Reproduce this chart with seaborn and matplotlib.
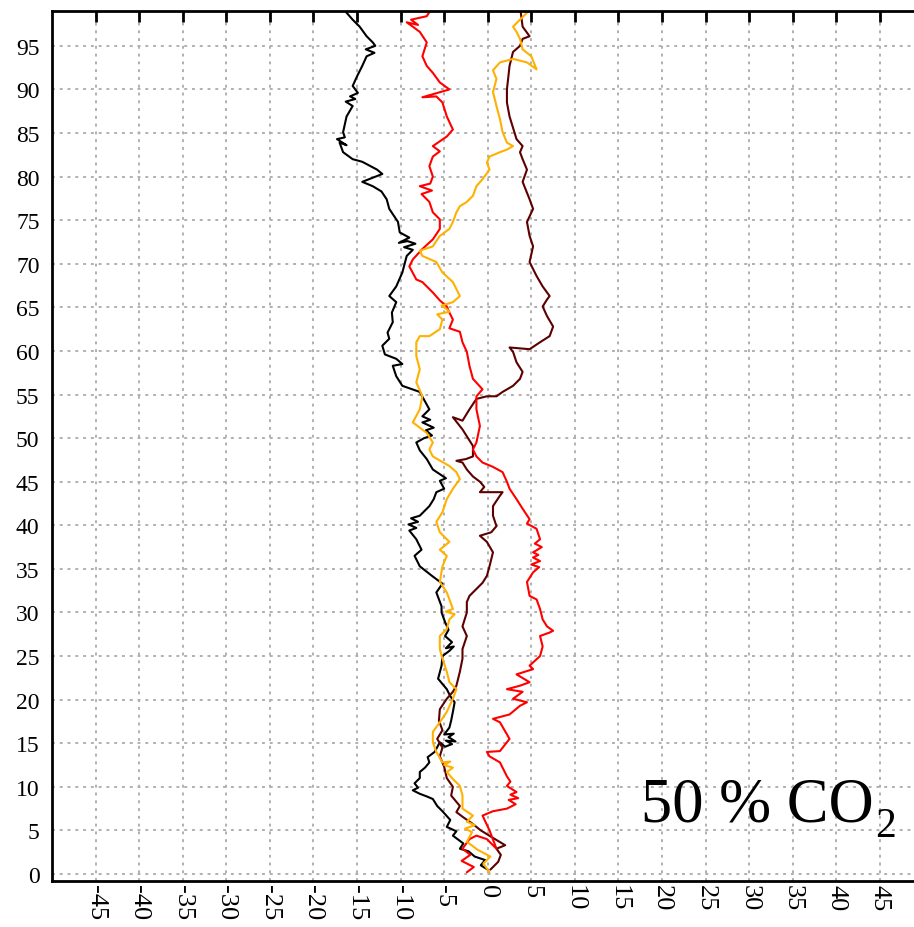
import numpy as np
import pandas as pd
import matplotlib
matplotlib.use("Agg")
import matplotlib.pyplot as plt
import seaborn as sns

# trajectories, (x, y) pairs
black_xy = [(0.0, 0.5), (-0.8, 1.0), (-0.3, 1.6), (-1.5, 2.0), (-2.2, 2.6), (-3.2, 2.9), (-2.8, 3.5), (-4.0, 4.4),
            (-3.6, 4.9), (-4.7, 5.4), (-4.3, 6.2), (-5.2, 7.2), (-5.8, 7.8), (-6.3, 8.6), (-7.0, 8.9), (-7.8, 9.2),
            (-8.6, 9.6), (-8.0, 9.9), (-8.4, 10.4), (-7.8, 11.0), (-7.8, 11.7), (-7.2, 12.2), (-6.7, 12.8), (-6.9, 13.4),
            (-6.1, 14.0), (-5.5, 15.1), (-4.9, 14.6), (-4.1, 14.9), (-4.8, 15.3), (-3.7, 15.2), (-4.5, 15.7), (-3.9, 16.1),
            (-5.0, 16.0), (-4.4, 16.8), (-4.2, 17.6), (-4.0, 18.6), (-3.8, 19.7), (-4.3, 20.4), (-4.7, 21.2), (-5.7, 22.4),
            (-5.3, 23.9), (-5.2, 25.0), (-4.4, 25.6), (-3.9, 26.1), (-4.8, 25.9), (-4.1, 26.6), (-4.9, 27.3), (-4.5, 28.0),
            (-4.9, 28.9), (-5.3, 30.0), (-5.3, 30.7), (-5.9, 32.3), (-5.2, 33.3), (-6.4, 34.2), (-7.8, 35.3), (-8.4, 36.5),
            (-7.6, 37.2), (-8.2, 38.4), (-9.0, 39.4), (-8.2, 39.7), (-9.1, 40.1), (-8.0, 40.4), (-8.8, 40.8), (-7.8, 41.1),
            (-6.7, 42.2), (-6.2, 43.0), (-5.9, 43.8), (-5.0, 44.2), (-5.5, 45.1), (-4.8, 45.4), (-6.3, 46.4), (-7.0, 47.6),
            (-7.8, 48.6), (-8.2, 49.5), (-7.3, 50.0), (-6.4, 50.3), (-7.1, 50.9), (-6.2, 51.2), (-7.5, 51.8), (-6.6, 52.1),
            (-7.5, 52.5), (-6.7, 53.3), (-7.2, 54.2), (-7.8, 55.3), (-9.8, 56.0), (-10.5, 57.1), (-10.9, 58.3), (-9.8, 58.5),
            (-10.5, 59.1), (-11.8, 59.6), (-12.1, 60.6), (-11.3, 61.4), (-11.5, 62.1), (-10.9, 63.3), (-11.0, 64.4),
            (-10.5, 65.6), (-11.3, 66.3), (-10.5, 67.4), (-9.8, 69.0), (-9.3, 70.9), (-8.6, 71.6), (-9.6, 71.9), (-8.3, 72.3),
            (-9.2, 72.6), (-10.2, 72.4), (-9.0, 73.0), (-10.1, 73.6), (-10.3, 74.8), (-11.3, 76.3), (-11.6, 77.4),
            (-12.2, 78.3), (-13.2, 78.9), (-14.4, 79.4), (-12.1, 80.3), (-12.7, 80.8), (-14.4, 81.7), (-15.5, 82.0),
            (-16.6, 82.8), (-17.0, 83.9), (-16.2, 83.6), (-17.3, 84.3), (-16.4, 84.5), (-16.6, 85.1), (-16.2, 86.9),
            (-15.5, 88.1), (-16.3, 88.6), (-15.2, 88.9), (-15.8, 89.2), (-14.9, 89.6), (-15.5, 90.4), (-15.0, 91.5),
            (-14.4, 92.7), (-13.9, 93.8), (-13.0, 94.2), (-14.0, 94.6), (-12.9, 95.0), (-13.2, 95.4), (-13.9, 96.1),
            (-14.7, 97.2), (-15.5, 98.0), (-16.2, 98.8), (-16.6, 99.5)]

red_xy = [(-2.4, 0.2), (-1.6, 0.8), (-3.0, 1.5), (-2.0, 2.2), (-2.9, 2.9), (-2.1, 4.0), (-1.3, 4.4), (-0.1, 4.0),
          (1.0, 2.9), (0.2, 5.0), (-0.6, 6.7), (0.6, 7.2), (2.2, 7.5), (3.2, 8.0), (2.4, 8.5), (3.5, 8.7), (2.6, 9.1),
          (3.3, 9.4), (2.2, 10.1), (2.6, 10.6), (2.2, 11.2), (1.4, 12.8), (0.2, 13.5), (-0.1, 14.0), (1.4, 14.1),
          (2.5, 15.5), (1.4, 17.4), (0.6, 17.8), (2.5, 18.3), (3.7, 19.3), (4.5, 19.7), (2.9, 20.1), (4.0, 20.9),
          (2.2, 21.2), (3.7, 21.6), (4.8, 22.0), (3.3, 22.9), (5.2, 23.5), (4.8, 23.9), (6.0, 25.0), (6.3, 26.1),
          (6.0, 27.3), (7.1, 27.7), (7.5, 27.9), (6.8, 28.4), (6.3, 29.2), (6.0, 30.4), (5.6, 31.5), (4.8, 31.9),
          (4.5, 33.5), (5.2, 34.6), (5.9, 35.2), (5.0, 35.5), (6.0, 35.9), (5.2, 36.3), (5.8, 36.6), (5.2, 36.9),
          (6.2, 37.5), (5.4, 37.9), (6.0, 38.4), (5.6, 39.6), (4.5, 40.2), (4.8, 40.7), (4.0, 41.9), (3.3, 43.0),
          (2.5, 44.2), (2.2, 45.0), (1.7, 46.1), (0.6, 46.7), (-0.6, 47.2), (-1.3, 47.9), (-1.7, 48.7), (-1.3, 49.5),
          (-0.9, 51.4), (-1.3, 53.3), (-1.3, 54.8), (-0.6, 55.6), (-1.7, 56.8), (-2.1, 58.3), (-2.4, 59.9), (-2.9, 61.0),
          (-3.2, 62.2), (-4.4, 62.6), (-4.0, 63.6), (-4.4, 64.4), (-4.7, 65.1), (-5.5, 65.8), (-6.3, 66.7), (-7.5, 67.9),
          (-8.2, 68.2), (-9.0, 69.7), (-8.6, 70.5), (-7.5, 71.7), (-6.3, 72.8), (-5.5, 74.0), (-5.5, 75.1), (-6.3, 75.9),
          (-6.7, 77.1), (-7.6, 78.0), (-6.4, 78.4), (-7.8, 78.9), (-6.6, 79.2), (-6.3, 80.0), (-6.7, 81.2), (-6.3, 82.3),
          (-5.5, 82.9), (-6.3, 83.5), (-4.7, 84.6), (-4.0, 85.4), (-4.7, 86.9), (-5.2, 88.5), (-5.9, 89.2), (-7.5, 89.1),
          (-4.4, 90.0), (-5.5, 90.8), (-6.3, 91.9), (-7.0, 92.7), (-7.5, 93.8), (-7.0, 95.4), (-7.8, 96.6), (-8.6, 97.2),
          (-9.3, 97.7), (-8.0, 97.4), (-8.8, 98.0), (-7.0, 98.4), (-6.3, 99.5)]

orange_xy = [(0.2, 0.2), (-0.5, 1.2), (0.3, 2.0), (-1.2, 2.8), (-2.4, 3.7), (-1.8, 4.8), (-2.6, 5.2), (-1.5, 5.6),
             (-2.4, 6.0), (-1.7, 6.7), (-2.9, 7.5), (-2.9, 9.0), (-3.2, 10.1), (-4.0, 10.9), (-4.7, 11.7), (-4.0, 12.2),
             (-5.0, 12.5), (-4.3, 12.9), (-5.2, 12.8), (-5.9, 14.0), (-6.3, 15.1), (-6.3, 16.3), (-5.5, 17.4), (-4.7, 18.6),
             (-4.0, 20.1), (-3.6, 21.2), (-4.4, 22.0), (-4.7, 23.2), (-5.2, 24.7), (-5.5, 25.8), (-5.5, 27.3), (-4.7, 28.1),
             (-4.4, 29.2), (-3.8, 29.8), (-4.8, 30.1), (-4.0, 30.4), (-4.4, 31.5), (-4.7, 32.3), (-5.5, 33.5), (-5.2, 35.3),
             (-4.7, 36.5), (-5.5, 37.2), (-4.4, 38.1), (-5.5, 39.2), (-5.9, 40.4), (-5.2, 41.5), (-4.7, 43.0), (-4.0, 44.2),
             (-3.2, 45.3), (-3.6, 46.1), (-4.4, 46.8), (-6.3, 47.9), (-6.7, 48.7), (-6.3, 49.5), (-7.0, 50.6), (-8.6, 51.8),
             (-7.8, 53.3), (-7.5, 54.8), (-8.2, 56.4), (-7.8, 57.9), (-8.2, 59.4), (-8.2, 61.0), (-7.8, 61.7), (-6.7, 61.7),
             (-5.5, 62.5), (-5.2, 63.6), (-5.8, 64.2), (-4.4, 64.5), (-4.7, 64.8), (-5.3, 65.2), (-4.0, 65.6), (-3.2, 66.3),
             (-4.0, 67.9), (-5.2, 69.0), (-5.9, 70.2), (-7.5, 70.9), (-7.8, 71.5), (-6.3, 72.0), (-5.5, 73.2), (-4.4, 74.0),
             (-4.0, 74.8), (-3.6, 75.9), (-3.2, 76.6), (-2.4, 77.1), (-1.7, 77.8), (-1.3, 78.9), (-0.6, 79.7), (0.2, 80.8),
             (-0.1, 81.6), (0.2, 82.3), (1.4, 82.8), (2.2, 83.1), (2.9, 83.5), (2.2, 83.9), (1.7, 85.1), (1.4, 86.6),
             (1.0, 88.1), (0.6, 89.7), (1.0, 91.2), (0.6, 92.2), (1.4, 93.1), (2.9, 93.5), (4.5, 93.1), (5.6, 92.3),
             (5.0, 93.8), (4.0, 94.6), (3.7, 95.8), (3.3, 96.6), (2.9, 97.2), (3.7, 98.0), (4.5, 98.8), (4.2, 99.5)]

darkred_xy = [(0.3, 0.5), (1.2, 1.4), (1.5, 2.2), (1.0, 2.9), (2.0, 3.3), (0.5, 4.2), (-0.8, 5.0), (-1.8, 5.8),
              (-2.8, 6.5), (-3.6, 7.1), (-3.2, 7.8), (-4.2, 9.0), (-4.0, 10.0), (-4.7, 11.0), (-5.0, 12.3), (-5.5, 13.5),
              (-5.2, 14.5), (-5.8, 15.5), (-5.2, 16.5), (-5.6, 17.6), (-5.5, 18.9), (-4.7, 20.1), (-4.0, 20.9), (-3.6, 21.6),
              (-3.2, 23.2), (-2.9, 24.7), (-2.9, 25.8), (-2.4, 27.3), (-2.9, 28.4), (-2.4, 30.0), (-2.4, 31.2), (-2.1, 31.9),
              (-1.3, 32.7), (-0.6, 33.4), (-0.1, 34.2), (0.2, 35.3), (0.6, 36.9), (-0.1, 38.1), (-0.9, 38.8), (0.4, 39.2),
              (1.0, 39.9), (0.6, 41.1), (0.6, 42.2), (1.4, 43.4), (1.7, 43.8), (-0.9, 43.8), (-0.4, 44.4), (-0.9, 45.0),
              (-1.7, 45.6), (-2.4, 46.4), (-2.9, 47.2), (-3.6, 47.4), (-2.5, 47.6), (-1.7, 47.9), (-1.7, 49.1), (-2.9, 51.0),
              (-4.0, 52.4), (-2.9, 52.0), (-2.1, 53.3), (-1.3, 54.5), (-0.1, 54.8), (1.0, 54.8), (1.7, 55.3), (2.9, 56.0),
              (3.7, 56.8), (4.0, 57.6), (3.3, 58.7), (2.9, 59.9), (2.5, 60.4), (4.8, 60.2), (6.0, 61.0), (7.1, 61.7),
              (7.5, 62.8), (6.8, 64.0), (6.3, 65.1), (6.8, 65.9), (7.1, 66.3), (6.3, 67.4), (5.6, 68.6), (4.8, 70.2),
              (5.2, 72.0), (4.8, 73.2), (4.5, 74.8), (5.2, 76.3), (4.8, 77.4), (4.0, 79.4), (4.5, 80.8), (4.0, 82.0),
              (3.7, 82.8), (4.0, 83.5), (3.3, 84.3), (2.5, 86.9), (2.2, 88.5), (2.2, 90.0), (2.5, 92.7), (2.9, 94.3),
              (3.7, 95.0), (4.0, 95.8), (4.8, 96.1), (4.0, 97.2), (3.7, 99.5)]

runs = ["black", "darkred", "red", "orange"]
colors = ["#000000", "#5c0000", "#ff0000", "#ffb000"]
paths = [black_xy, darkred_xy, red_xy, orange_xy]
x_ticks = list(range(-45, 50, 5))
y_ticks = list(range(0, 100, 5))

df = pd.concat([pd.DataFrame(p, columns=["x", "y"]).assign(run=r) for r, p in zip(runs, paths)],
               ignore_index=True)

sns.set_style("white")
plt.rcParams["font.family"] = ["Liberation Serif", "DejaVu Serif"]
plt.rcParams["text.color"] = "black"
plt.rcParams["xtick.color"] = "black"
plt.rcParams["ytick.color"] = "black"

fig = plt.figure(figsize=(9.14, 9.28), dpi=100)
ax = fig.add_axes([0.0569, 0.0496, 0.9535, 0.9375])

sns.lineplot(data=df, x="x", y="y", hue="run", palette=dict(zip(runs, colors)),
             sort=False, estimator=None, legend=False, linewidth=1.5, ax=ax)

ax.set_xlim(-50, 50)
ax.set_ylim(-0.8, 99)
ax.set_xticks(x_ticks)
ax.set_yticks(y_ticks)
ax.set_xticklabels([str(v) for v in x_ticks], rotation=-90, va="top", ha="center")
ax.tick_params(axis="both", direction="in", length=8, width=2, top=True, right=False)
ax.tick_params(axis="x", pad=2, labelsize=19)
ax.tick_params(axis="y", pad=9, labelsize=17)
ax.grid(True, color="#b0b0b0", linestyle=(0, (1.5, 2.5)), linewidth=1.4)
ax.set_axisbelow(True)
for s in ax.spines.values():
    s.set_linewidth(2)
    s.set_color("black")
ax.set_xlabel("")
ax.set_ylabel("")

t = ax.text(0.676, 0.069, "50 % CO", transform=ax.transAxes, fontsize=45,
            ha="left", va="baseline")
ax.annotate("2", xy=(1, 0), xycoords=t, xytext=(1, -1), textcoords="offset points",
            fontsize=30, ha="left", va="baseline")

fig.savefig("out.png", dpi=100)
